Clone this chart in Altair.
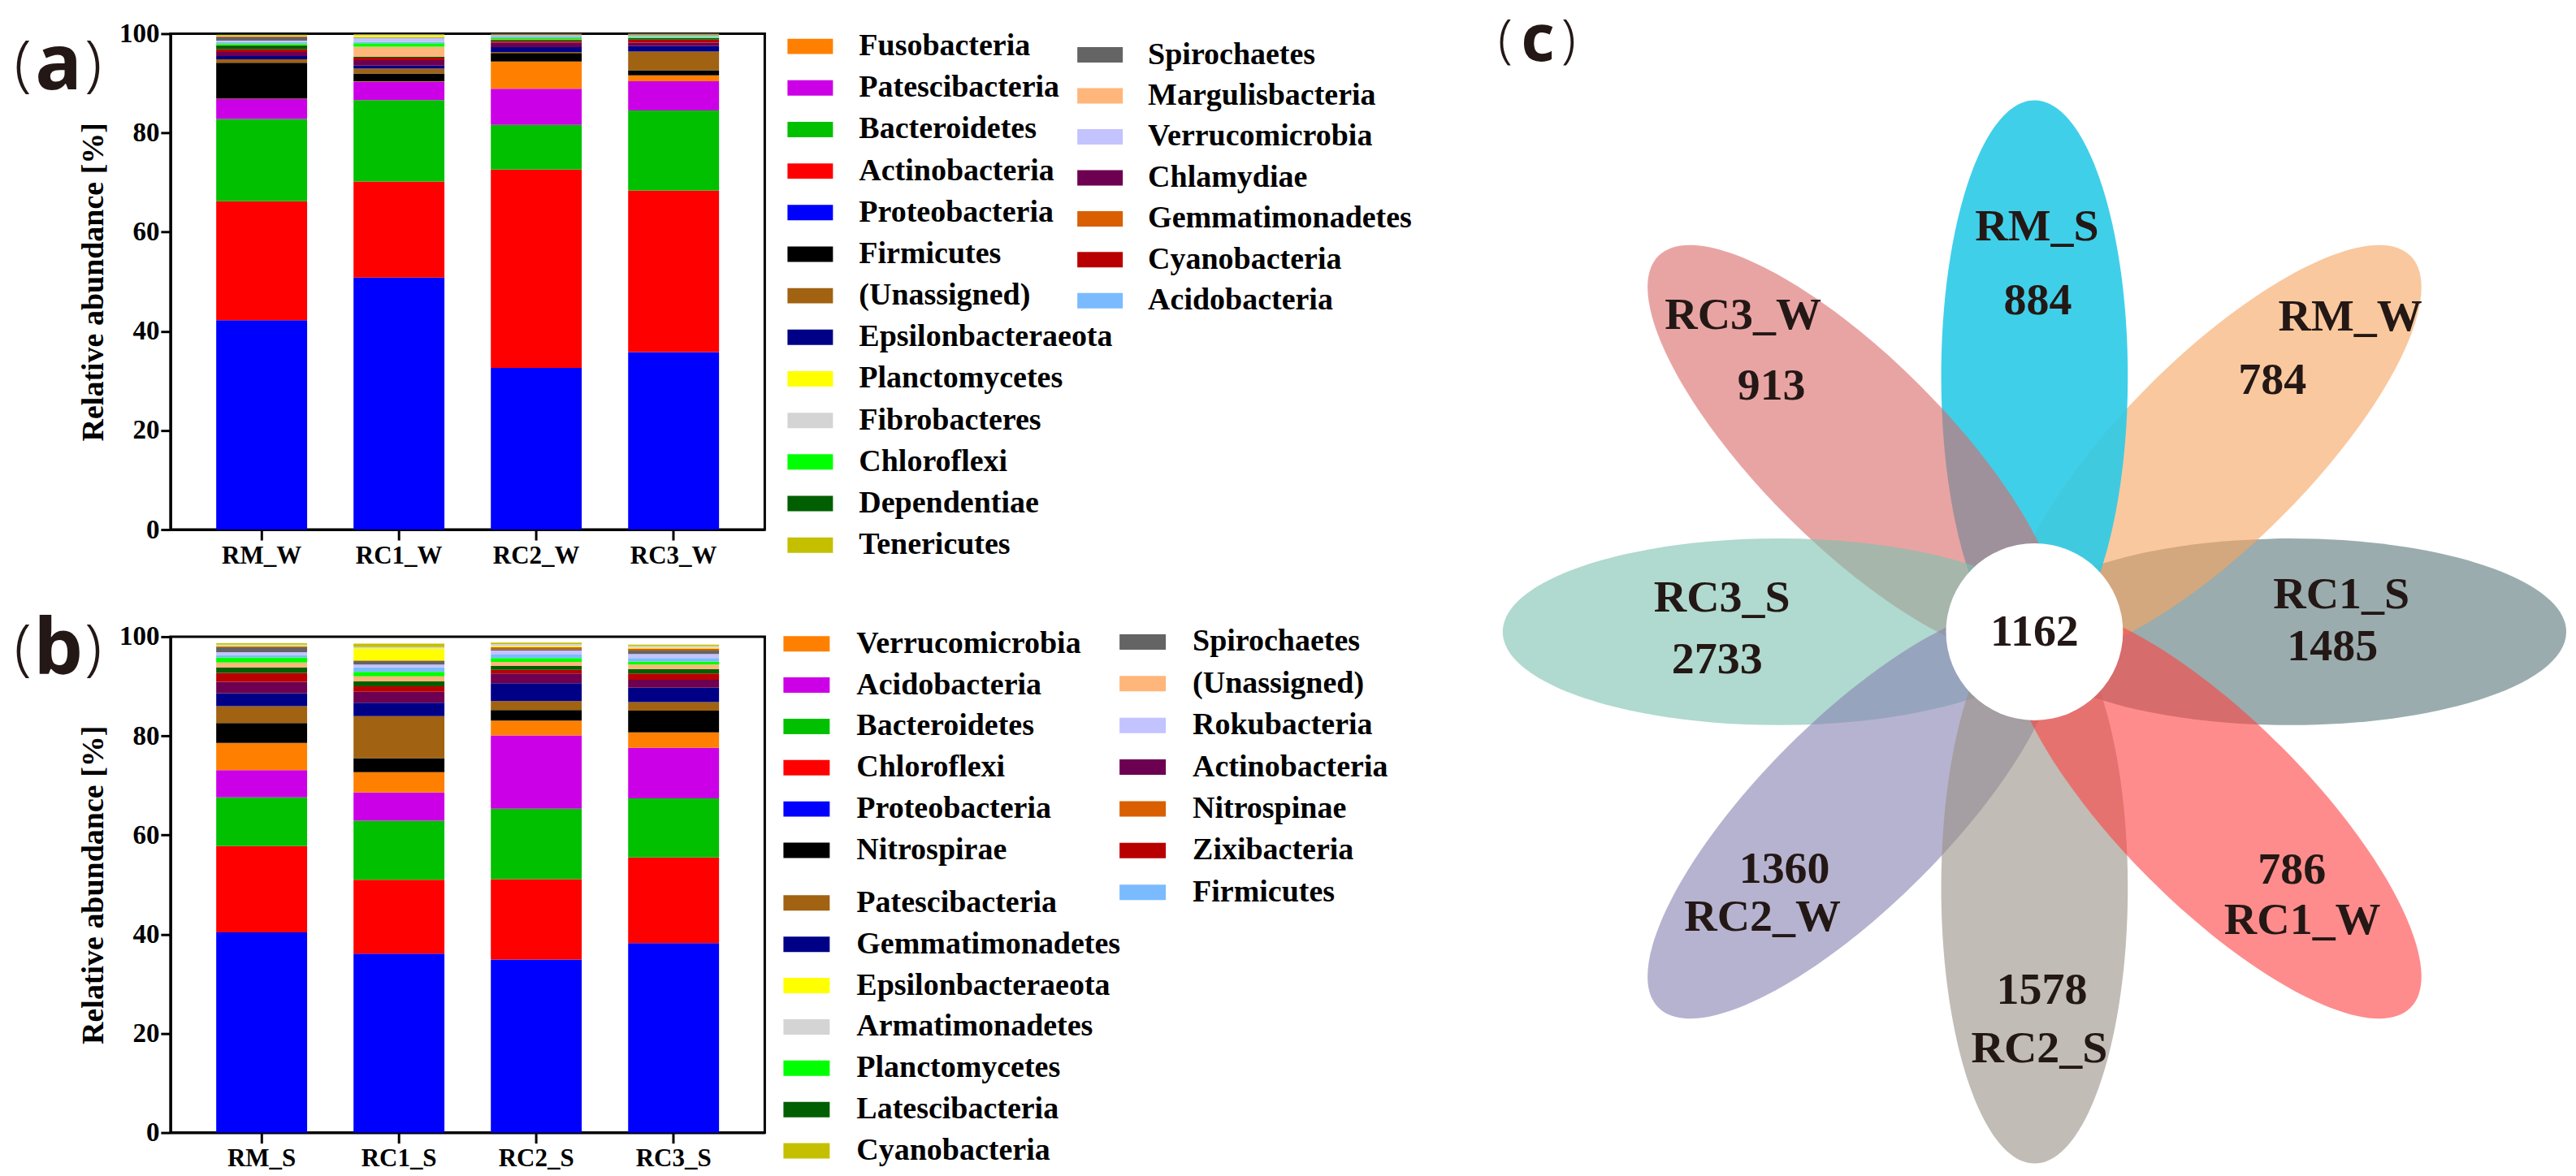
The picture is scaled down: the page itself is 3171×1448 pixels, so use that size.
import altair as alt
import pandas as pd

# ---------------- data ----------------
SAMPLES_W = ["RM_W", "RC1_W", "RC2_W", "RC3_W"]
SAMPLES_S = ["RM_S", "RC1_S", "RC2_S", "RC3_S"]

# phyla in stacking order (bottom -> top)
PHYLA_W = ["Proteobacteria", "Actinobacteria", "Bacteroidetes", "Patescibacteria", "Fusobacteria",
           "Firmicutes", "(Unassigned)", "Epsilonbacteraeota", "Chlamydiae", "Cyanobacteria",
           "Dependentiae", "Margulisbacteria", "Chloroflexi", "Acidobacteria", "Verrucomicrobia",
           "Spirochaetes", "Gemmatimonadetes", "Planctomycetes", "Fibrobacteres", "Tenericutes"]
PHYLA_S = ["Proteobacteria", "Chloroflexi", "Bacteroidetes", "Acidobacteria", "Verrucomicrobia",
           "Nitrospirae", "Patescibacteria", "Gemmatimonadetes", "Actinobacteria", "Zixibacteria",
           "Latescibacteria", "(Unassigned)", "Planctomycetes", "Firmicutes", "Rokubacteria",
           "Spirochaetes", "Nitrospinae", "Epsilonbacteraeota", "Armatimonadetes", "Cyanobacteria"]

RM_W = [42.2, 24.0, 16.6, 4.0, 0.1, 7.25, 0.66, 0.66, 0.82, 0.55, 0.77, 0.1, 0.3, 0.3, 0.3, 0.66, 0.15, 0.05, 0.1, 0.2]
RC1_W = [50.8, 19.4, 16.4, 3.7, 0.05, 1.6, 1.0, 0.6, 1.1, 0.5, 0.2, 2.0, 0.7, 0.3, 0.8, 0.1, 0.05, 0.3, 0.1, 0.15]
RC2_W = [32.6, 40.0, 9.0, 7.3, 5.5, 1.7, 0.2, 1.0, 0.9, 0.3, 0.3, 0.1, 0.3, 0.2, 0.3, 0.1, 0.05, 0.05, 0.05, 0.05]
RC3_W = [35.8, 32.6, 16.1, 5.9, 1.2, 1.0, 3.8, 1.1, 0.7, 0.6, 0.3, 0.05, 0.2, 0.2, 0.1, 0.1, 0.05, 0.05, 0.05, 0.1]

RM_S = [40.4, 17.4, 9.8, 5.5, 5.5, 4.0, 3.4, 2.6, 2.3, 1.8, 1.1, 1.0, 1.0, 0.5, 0.6, 1.0, 0.2, 0.15, 0.15, 0.3]
RC1_S = [36.1, 14.9, 11.9, 5.7, 4.1, 2.8, 8.5, 2.7, 2.2, 1.1, 1.0, 1.0, 0.9, 0.9, 0.6, 0.7, 0.1, 2.4, 0.3, 0.7]
RC2_S = [34.9, 16.2, 14.2, 14.8, 3.0, 2.1, 1.8, 3.6, 2.0, 0.7, 0.8, 0.8, 0.8, 0.7, 0.8, 0.3, 0.4, 0.2, 0.4, 0.3]
RC3_S = [38.2, 17.3, 11.9, 10.2, 3.1, 4.4, 1.7, 2.9, 1.6, 1.3, 0.9, 0.9, 0.6, 0.7, 0.8, 0.7, 0.4, 0.2, 0.3, 0.3]

VALUES_W = {"RM_W": RM_W, "RC1_W": RC1_W, "RC2_W": RC2_W, "RC3_W": RC3_W}
VALUES_S = {"RM_S": RM_S, "RC1_S": RC1_S, "RC2_S": RC2_S, "RC3_S": RC3_S}

LEGEND_W_COL1 = ["Fusobacteria", "Patescibacteria", "Bacteroidetes", "Actinobacteria", "Proteobacteria",
                 "Firmicutes", "(Unassigned)", "Epsilonbacteraeota", "Planctomycetes", "Fibrobacteres",
                 "Chloroflexi", "Dependentiae", "Tenericutes"]
LEGEND_W_COL2 = ["Spirochaetes", "Margulisbacteria", "Verrucomicrobia", "Chlamydiae", "Gemmatimonadetes",
                 "Cyanobacteria", "Acidobacteria"]
LEGEND_S_COL1 = ["Verrucomicrobia", "Acidobacteria", "Bacteroidetes", "Chloroflexi", "Proteobacteria",
                 "Nitrospirae", "Patescibacteria", "Gemmatimonadetes", "Epsilonbacteraeota", "Armatimonadetes",
                 "Planctomycetes", "Latescibacteria", "Cyanobacteria"]
LEGEND_S_COL2 = ["Spirochaetes", "(Unassigned)", "Rokubacteria", "Actinobacteria", "Nitrospinae",
                 "Zixibacteria", "Firmicutes"]

STACK_COLORS = ["#0000FF", "#FF0000", "#00C000", "#CC00E6", "#FF8000", "#000000", "#A16211", "#000086",
                "#6D0050", "#B90000", "#005F00", "#FFB67A", "#00FF00", "#7ABBFF", "#C3C3FF", "#646464",
                "#D95F00", "#FFFF00", "#D4D4D4", "#C4C000"]

VENN_GROUPS = ["RC1_S", "RM_W", "RM_S", "RC3_W", "RC3_S", "RC2_W", "RC2_S", "RC1_W"]
VENN_COUNTS = [1485, 784, 884, 913, 2733, 1360, 1578, 786]
VENN_CORE = 1162
VENN_DIRECTION = [0, 45, 90, 135, 180, 225, 270, 315]
VENN_COLORS = ["#5A787B", "#F7A561", "#2BCAE7", "#D96B69", "#7EC1B1", "#8883B2", "#9A9286", "#FD4343"]
VENN_OPACITY = [0.613, 0.613, 0.9, 0.613, 0.613, 0.613, 0.613, 0.613]
# label positions (px offsets from flower centre, y up)
NAME_POS = [(378, 46), (389, 388), (3, 499), (-359, 390), (-385, 42), (-335, -351), (6, -513), (330, -355)]
COUNT_POS = [(367, -18), (293, 310), (4, 408), (-324, 303), (-391, -34), (-308, -292), (9, -441), (317, -293)]

# ---------------- style ----------------
SERIF = "Liberation Serif"
TXT = "#231815"
BAR_W, BAR_H = 732, 611
LEG_W = 860
VENN_W = 1363
ROW_GAP = 132
VENN_OFFSET = BAR_W + LEG_W  # x of panel (c) cell relative to panel (a) plot
NO_FRAME = alt.ViewBackground(stroke="transparent", strokeWidth=0)


def long_df(samples, phyla, values):
    rows = []
    for s in samples:
        for i, (p, v) in enumerate(zip(phyla, values[s])):
            rows.append({"sample": s, "phylum": p, "value": v, "idx": i})
    return pd.DataFrame(rows)


def panel_letter(letter, x_par1, x_let, x_par2, y, psize, lsize):
    one = pd.DataFrame({"k": [0]})
    base = alt.Chart(one)
    p1 = base.mark_text(text="(", font="Noto Sans", fontSize=psize, fontWeight=300, color=TXT,
                        baseline="middle", align="center").encode(x=alt.value(x_par1), y=alt.value(y))
    lt = base.mark_text(text=letter, font="Noto Sans", fontSize=lsize, fontWeight="bold", color=TXT,
                        baseline="middle", align="center").encode(x=alt.value(x_let), y=alt.value(y))
    p2 = base.mark_text(text=")", font="Noto Sans", fontSize=psize, fontWeight=300, color=TXT,
                        baseline="middle", align="center").encode(x=alt.value(x_par2), y=alt.value(y))
    return [p1, lt, p2]


def bar_chart(samples, phyla, values, letter, letter_y, anchor=False):
    df = long_df(samples, phyla, values)
    bars = alt.Chart(df).mark_bar(strokeWidth=0).encode(
        x=alt.X("sample:N", sort=samples,
                scale=alt.Scale(paddingInner=0.338, paddingOuter=0.333),
                axis=alt.Axis(title=None, labelAngle=0, labelFont=SERIF, labelFontWeight="bold",
                              labelFontSize=31, labelColor="black", labelPadding=4, tickSize=13,
                              tickWidth=3, tickColor="black", domainWidth=3, domainColor="black",
                              grid=False)),
        y=alt.Y("value:Q", stack="zero",
                scale=alt.Scale(domain=[0, 100], nice=False),
                axis=alt.Axis(title="Relative abundance [%]", values=[0, 20, 40, 60, 80, 100],
                              labelFont=SERIF, labelFontWeight="bold", labelFontSize=33,
                              labelColor="black", labelPadding=2, tickSize=12, tickWidth=3,
                              tickColor="black", domainWidth=3, domainColor="black", grid=False,
                              titleFont=SERIF, titleFontWeight="bold", titleFontSize=38,
                              titleColor="black", titlePadding=12)),
        color=alt.Color("phylum:N", scale=alt.Scale(domain=phyla, range=STACK_COLORS), legend=None),
        order=alt.Order("idx:Q", sort="ascending"),
    )
    layers = [bars] + panel_letter(letter, -182, -138, -95, letter_y, 76, 96)
    if anchor:
        layers.append(alt.Chart(pd.DataFrame({"k": [0]})).mark_rule(strokeOpacity=0, strokeWidth=1).encode(
            x=alt.value(-200), y=alt.value(-31), y2=alt.value(-30)))
        # panel (c) letter, placed above the flower cell
        layers += panel_letter("c", VENN_OFFSET + 52, VENN_OFFSET + 92, VENN_OFFSET + 130, 10, 64, 80)
    return alt.layer(*layers).properties(
        width=BAR_W, height=BAR_H,
        view=alt.ViewBackground(stroke="black", strokeWidth=3))


def legend_chart(phyla, col1, col2, lay):
    rows = []
    for i, n in enumerate(col1):
        yc = lay["y1"] + lay["s1"] * i + (lay["gap"] if i >= lay["gap_from"] else 0)
        rows.append({"name": n, "x0": lay["sx1"], "x1": lay["sx1"] + lay["sw"], "xt": lay["tx1"],
                     "yc": yc, "y0": yc - 9.5, "y1": yc + 9.5})
    for i, n in enumerate(col2):
        yc = lay["y2"] + lay["s2"] * i
        rows.append({"name": n, "x0": lay["sx2"], "x1": lay["sx2"] + lay["sw"], "xt": lay["tx2"],
                     "yc": yc, "y0": yc - 9.5, "y1": yc + 9.5})
    df = pd.DataFrame(rows)
    xs = alt.Scale(domain=[0, LEG_W], nice=False, zero=False)
    ys = alt.Scale(domain=[0, BAR_H], nice=False, zero=False, reverse=True)
    sw = alt.Chart(df).mark_rect().encode(
        x=alt.X("x0:Q", scale=xs, axis=None), x2="x1:Q",
        y=alt.Y("y0:Q", scale=ys, axis=None), y2="y1:Q",
        color=alt.Color("name:N", scale=alt.Scale(domain=phyla, range=STACK_COLORS), legend=None))
    tx = alt.Chart(df).mark_text(align="left", baseline="middle", font=SERIF, fontWeight="bold",
                                 fontSize=38, color="black").encode(
        x=alt.X("xt:Q", scale=xs, axis=None), y=alt.Y("yc:Q", scale=ys, axis=None), text="name:N")
    return alt.layer(sw, tx).properties(width=LEG_W, height=BAR_H, view=NO_FRAME)


def venn_chart():
    pet = pd.DataFrame({"group": VENN_GROUPS, "dir": VENN_DIRECTION, "op": VENN_OPACITY,
                        "draw": list(range(len(VENN_GROUPS)))})
    xs = alt.Scale(domain=[-704, VENN_W - 704], nice=False, zero=False)
    ys = alt.Scale(domain=[737 - BAR_H, 737], nice=False, zero=False)
    ellipse = "M -1 0 A 1 0.338 0 1 1 1 0 A 1 0.338 0 1 1 -1 0 Z"
    petals = alt.Chart(pet).transform_calculate(
        cx="315*cos(datum.dir*PI/180)", cy="315*sin(datum.dir*PI/180)",
        rot="(360 - datum.dir) % 360"
    ).mark_point(shape=ellipse, filled=True, strokeWidth=0).encode(
        x=alt.X("cx:Q", scale=xs, axis=None), y=alt.Y("cy:Q", scale=ys, axis=None),
        angle=alt.Angle("rot:Q", scale=None),
        color=alt.Color("group:N", scale=alt.Scale(domain=VENN_GROUPS, range=VENN_COLORS), legend=None),
        opacity=alt.Opacity("op:Q", scale=None),
        size=alt.value(680 * 680),
        order=alt.Order("draw:Q"),
    )
    core = pd.DataFrame({"x": [0], "y": [0]})
    circle = alt.Chart(core).mark_point(shape="circle", filled=True, color="white", opacity=1,
                                        strokeWidth=0).encode(
        x=alt.X("x:Q", scale=xs, axis=None), y=alt.Y("y:Q", scale=ys, axis=None),
        size=alt.value(218 * 218))
    lab = []
    for g, c, (nx, ny), (cx, cy) in zip(VENN_GROUPS, VENN_COUNTS, NAME_POS, COUNT_POS):
        lab.append({"x": nx, "y": ny, "label": g})
        lab.append({"x": cx, "y": cy, "label": str(c)})
    lab.append({"x": 0, "y": 0, "label": str(VENN_CORE)})
    labels = alt.Chart(pd.DataFrame(lab)).mark_text(font=SERIF, fontWeight="bold", fontSize=56,
                                                    color=TXT, baseline="middle", align="center").encode(
        x=alt.X("x:Q", scale=xs, axis=None), y=alt.Y("y:Q", scale=ys, axis=None), text="label:N")
    return alt.layer(petals, circle, labels).properties(width=VENN_W, height=BAR_H, view=NO_FRAME)


LAY_W = {"sx1": 28, "tx1": 116, "y1": 15.7, "s1": 51.2, "gap": 0, "gap_from": 99,
         "sx2": 385, "tx2": 472, "y2": 26.1, "s2": 50.5, "sw": 56}
LAY_S = {"sx1": 23, "tx1": 113, "y1": 8.7, "s1": 50.9, "gap": 14, "gap_from": 6,
         "sx2": 437, "tx2": 527, "y2": 6.5, "s2": 51.4, "sw": 57}

barA = bar_chart(SAMPLES_W, PHYLA_W, VALUES_W, "a", 40, anchor=True)
legA = legend_chart(PHYLA_W, LEGEND_W_COL1, LEGEND_W_COL2, LAY_W)
venn = venn_chart()
barB = bar_chart(SAMPLES_S, PHYLA_S, VALUES_S, "b", 16)
legB = legend_chart(PHYLA_S, LEGEND_S_COL1, LEGEND_S_COL2, LAY_S)

chart = alt.concat(barA, legA, venn, barB, legB, columns=3,
                   spacing={"row": ROW_GAP, "column": 0}, align="each", bounds="flush",
                   padding=0).resolve_scale(color="independent", x="independent", y="independent"
                   ).configure_view(strokeWidth=0)

chart.save("out.html", embed_options={"renderer": "svg", "actions": False})
